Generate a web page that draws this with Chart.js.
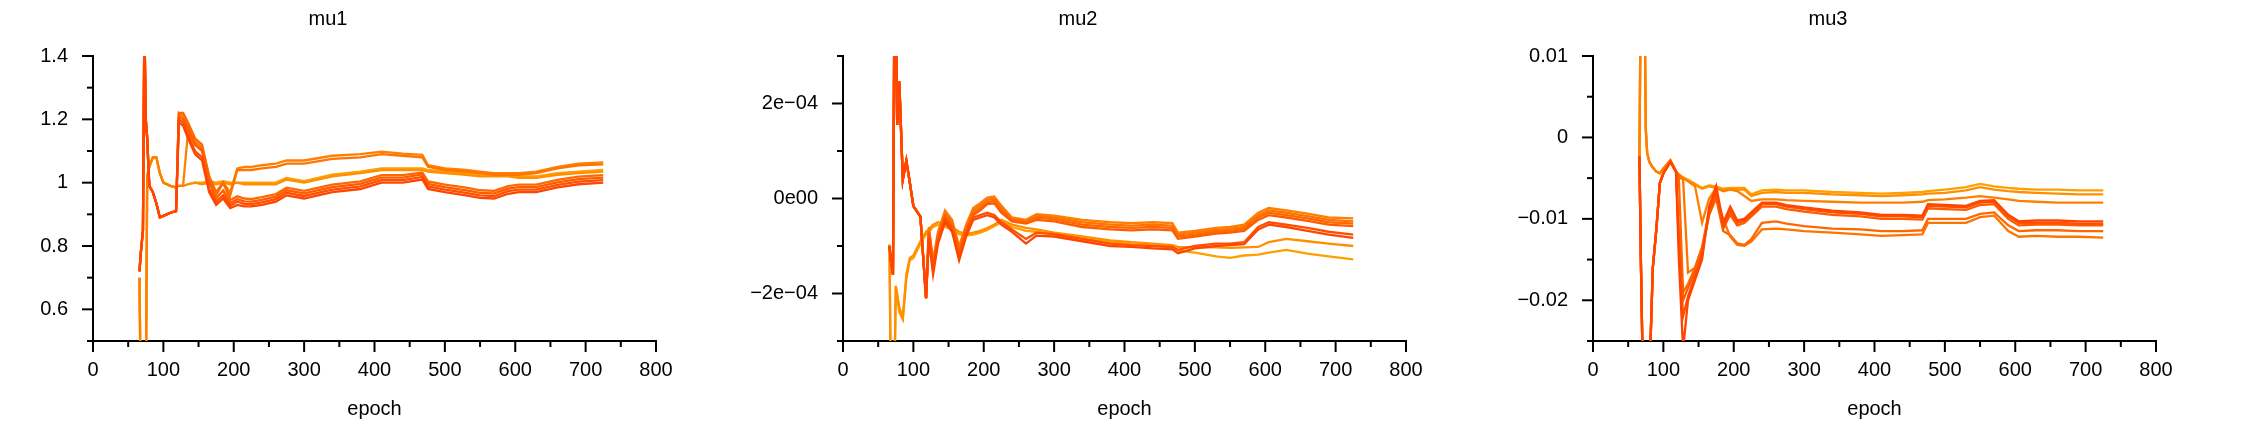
<!DOCTYPE html>
<html lang="en">
<head>
  <meta charset="UTF-8">
  <title>mu1 mu2 mu3</title>
  <style>
    * {
      margin: 0;
      padding: 0;
      box-sizing: border-box;
    }

    body {
      background: #fff;
      width: 2250px;
      height: 434px;
      overflow: hidden;
      display: flex;
    }

    canvas {
      display: block;
    }
  </style>
  <script src="https://cdn.jsdelivr.net/npm/chart.js"></script>
</head>
<body>
  <canvas id="mu1" width="750" height="434"></canvas>
  <canvas id="mu2" width="750" height="434"></canvas>
  <canvas id="mu3" width="750" height="434"></canvas>

  <script>
    // epochs shared by every run
    const epochs = [66, 68, 71, 73, 75, 77, 80, 85, 90, 95, 100, 110, 118, 122, 128, 135, 145, 155, 165, 175,
      185, 195, 205, 215, 225, 240, 260, 275, 300, 340, 380, 410, 440, 468, 476, 500, 530, 550, 570, 590,
      605, 630, 660, 690, 725];

    const xTickValues = [0, 50, 100, 150, 200, 250, 300, 350, 400, 450, 500, 550, 600, 650, 700, 750, 800];
    const xTickLabels = ['0', '', '100', '', '200', '', '300', '', '400', '', '500', '', '600', '', '700', '', '800'];

    // mu1
    const mu1Run0 = [0.72, 0.78, 0.85, 1.5, 1.2, 1.14, 0.99, 0.97, 0.935, 0.89, 0.895, 0.905, 0.91,
      1.19, 1.18, 1.14, 1.09, 1.07, 0.97, 0.93, 0.95, 0.92, 0.93, 0.925, 0.925, 0.93, 0.94, 0.96, 0.95, 0.97,
      0.98, 1.0, 1.0, 1.01, 0.98, 0.97, 0.96, 0.952, 0.95, 0.965, 0.97, 0.97, 0.985, 0.995, 1.0];
    const mu1Run1 = [0.72, 0.78, 0.85, 1.5, 1.2, 1.14, 0.99, 0.97, 0.935, 0.89, 0.895, 0.905, 0.91,
      1.2, 1.19, 1.15, 1.1, 1.08, 0.98, 0.94, 0.96, 0.928, 0.94, 0.933, 0.932, 0.938, 0.948, 0.968, 0.958, 0.978,
      0.988, 1.008, 1.008, 1.018, 0.988, 0.978, 0.968, 0.96, 0.958, 0.973, 0.978, 0.978, 0.993, 1.003, 1.008];
    const mu1Run2 = [0.72, 0.78, 0.85, 1.5, 1.2, 1.14, 0.99, 0.97, 0.935, 0.89, 0.895, 0.905, 0.91,
      1.21, 1.2, 1.17, 1.12, 1.1, 1.0, 0.95, 0.975, 0.936, 0.948, 0.941, 0.94, 0.946, 0.956, 0.976, 0.966, 0.986,
      0.996, 1.016, 1.016, 1.026, 0.996, 0.986, 0.976, 0.968, 0.966, 0.981, 0.986, 0.986, 1.001, 1.011, 1.016];
    const mu1Run3 = [0.72, 0.78, 0.85, 1.5, 1.2, 1.14, 0.99, 0.97, 0.935, 0.89, 0.895, 0.905, 0.91,
      1.22, 1.22, 1.19, 1.14, 1.12, 1.02, 0.97, 1.0, 0.945, 0.957, 0.95, 0.948, 0.954, 0.964, 0.984, 0.974, 0.994,
      1.004, 1.024, 1.024, 1.032, 1.004, 0.994, 0.984, 0.976, 0.974, 0.989, 0.994, 0.994, 1.009, 1.019, 1.024];
    const mu1Run4 = [0.72, 0.78, 0.85, 1.5, 1.2, 1.14, 0.99, 0.97, 0.935, 0.89, 0.895, 0.905, 0.91,
      1.22, 1.21, 1.18, 1.13, 1.11, 1.02, 0.96, 1.0, 0.96, 1.04, 1.04, 1.04, 1.045, 1.05, 1.06, 1.06, 1.075,
      1.08, 1.09, 1.085, 1.08, 1.05, 1.04, 1.035, 1.03, 1.025, 1.025, 1.025, 1.03, 1.045, 1.055, 1.058];
    const mu1Run5 = [0.7, 0.3, 0.3, 0.3, 0.3, 1.02, 1.05, 1.08, 1.08, 1.03, 1.0, 0.99, 0.985,
      0.99, 0.99, 1.16, 1.12, 1.1, 1.01, 0.97, 1.0, 0.97, 1.045, 1.05, 1.05, 1.055, 1.06, 1.07, 1.07, 1.085,
      1.09, 1.098, 1.092, 1.088, 1.055, 1.045, 1.04, 1.035, 1.03, 1.03, 1.03, 1.035, 1.05, 1.06, 1.064];
    const mu1Run6 = [0.7, 0.3, 0.3, 0.3, 0.3, 1.02, 1.05, 1.08, 1.08, 1.03, 1.0, 0.99, 0.985,
      0.99, 0.99, 0.995, 1.0, 0.995, 1.0, 0.995, 1.0, 0.995, 1.0, 0.995, 0.995, 0.995, 0.995, 1.01, 1.0, 1.02,
      1.03, 1.04, 1.04, 1.04, 1.035, 1.03, 1.025, 1.02, 1.02, 1.02, 1.015, 1.015, 1.025, 1.03, 1.035];
    const mu1Run7 = [0.7, 0.3, 0.3, 0.3, 0.3, 1.02, 1.05, 1.08, 1.08, 1.03, 1.0, 0.99, 0.985,
      0.99, 0.99, 0.995, 1.0, 1.0, 1.005, 1.0, 1.005, 1.0, 1.0, 1.0, 1.0, 1.0, 1.0, 1.015, 1.005, 1.025,
      1.035, 1.045, 1.045, 1.045, 1.04, 1.035, 1.03, 1.025, 1.025, 1.025, 1.02, 1.02, 1.03, 1.035, 1.04];
    const mu1TickValues = [0.5, 0.6, 0.7, 0.8, 0.9, 1.0, 1.1, 1.2, 1.3, 1.4];
    const mu1TickLabels = ['', '0.6', '', '0.8', '', '1', '', '1.2', '', '1.4'];

    // mu2, values in units of 1e-04
    const mu2Run0 = [-1.0, -1.3, -1.6, 4, 4, 1.55, 2.46, 0.4, 0.8, 0.33, -0.16, -0.38, -2.1,
      -0.85, -1.6, -0.95, -0.5, -0.7, -1.3, -0.8, -0.45, -0.4, -0.35, -0.4, -0.55, -0.7, -0.95, -0.78, -0.8, -0.9,
      -1.0, -1.02, -1.05, -1.07, -1.15, -1.05, -1.0, -0.98, -0.96, -0.65, -0.55, -0.6, -0.68, -0.76, -0.83];
    const mu2Run1 = [-1.0, -1.3, -1.6, 4, 4, 1.55, 2.46, 0.4, 0.8, 0.33, -0.16, -0.38, -2.1,
      -0.8, -1.5, -0.9, -0.45, -0.65, -1.25, -0.75, -0.4, -0.35, -0.3, -0.35, -0.5, -0.65, -0.85, -0.72, -0.75, -0.85,
      -0.95, -0.98, -1.0, -1.02, -1.08, -1.0, -0.95, -0.95, -0.92, -0.6, -0.5, -0.55, -0.62, -0.7, -0.76];
    const mu2Run2 = [-1.0, -1.3, -1.6, 4, 4, 1.55, 2.46, 0.4, 0.8, 0.33, -0.16, -0.38, -2.1,
      -0.75, -1.45, -0.85, -0.4, -0.6, -1.15, -0.7, -0.35, -0.25, -0.12, -0.1, -0.3, -0.48, -0.53, -0.45, -0.48, -0.6,
      -0.65, -0.67, -0.65, -0.67, -0.85, -0.8, -0.74, -0.72, -0.68, -0.45, -0.35, -0.4, -0.47, -0.55, -0.58];
    const mu2Run3 = [-1.0, -1.3, -1.6, 4, 4, 1.55, 2.46, 0.4, 0.8, 0.33, -0.16, -0.38, -2.1,
      -0.7, -1.4, -0.8, -0.35, -0.55, -1.1, -0.65, -0.3, -0.2, -0.08, -0.05, -0.25, -0.45, -0.5, -0.4, -0.44, -0.55,
      -0.6, -0.62, -0.6, -0.62, -0.8, -0.76, -0.7, -0.68, -0.64, -0.4, -0.3, -0.35, -0.42, -0.5, -0.53];
    const mu2Run4 = [-1.0, -1.3, -1.6, 4, 4, 1.55, 2.46, 0.4, 0.8, 0.33, -0.16, -0.38, -2.1,
      -0.65, -1.35, -0.75, -0.3, -0.5, -1.05, -0.6, -0.25, -0.15, -0.03, 0.0, -0.2, -0.43, -0.48, -0.36, -0.4, -0.5,
      -0.55, -0.57, -0.55, -0.57, -0.76, -0.72, -0.66, -0.64, -0.6, -0.35, -0.25, -0.3, -0.37, -0.45, -0.48];
    const mu2Run5 = [-1.0, -1.3, -1.6, 4, 4, 1.55, 2.46, 0.4, 0.8, 0.33, -0.16, -0.38, -2.1,
      -0.6, -1.3, -0.7, -0.25, -0.45, -1.0, -0.55, -0.2, -0.1, 0.02, 0.04, -0.15, -0.4, -0.45, -0.33, -0.36, -0.45,
      -0.5, -0.52, -0.5, -0.52, -0.72, -0.68, -0.62, -0.6, -0.55, -0.3, -0.2, -0.25, -0.32, -0.4, -0.42];
    const mu2Run6 = [-0.97, -4, -4, -4, -1.84, -2.0, -2.3, -2.5, -1.6, -1.25, -1.2, -0.9, -0.7,
      -0.65, -0.55, -0.5, -0.55, -0.6, -0.7, -0.75, -0.72, -0.68, -0.62, -0.55, -0.45, -0.55, -0.62, -0.65, -0.72, -0.8,
      -0.88, -0.92, -0.95, -0.98, -1.02, -1.03, -1.03, -1.04, -1.03, -1.02, -0.92, -0.85, -0.9, -0.95, -1.0];
    const mu2Run7 = [-0.97, -4, -4, -4, -1.84, -2.1, -2.4, -2.55, -1.7, -1.3, -1.25, -0.95, -0.75,
      -0.7, -0.6, -0.55, -0.6, -0.65, -0.75, -0.78, -0.76, -0.72, -0.66, -0.58, -0.5, -0.6, -0.68, -0.7, -0.76, -0.85,
      -0.92, -0.96, -0.99, -1.04, -1.1, -1.14, -1.22, -1.25, -1.2, -1.18, -1.14, -1.08, -1.16, -1.22, -1.28];
    const mu2TickValues = [-3, -2, -1, 0, 1, 2, 3];
    const mu2TickLabels = ['', '\u22122e\u221204', '', '0e00', '', '2e\u221204', ''];

    // mu3
    const mu3Run0 = [-0.0023, -0.015, -0.03, -0.03, -0.03, -0.03, -0.03, -0.016, -0.0113, -0.0056, -0.0044, -0.003, -0.0042,
      -0.015, -0.026, -0.02, -0.0175, -0.015, -0.0085, -0.006, -0.0105, -0.0085, -0.0102, -0.01, -0.0092, -0.008, -0.008, -0.0083, -0.0086, -0.009,
      -0.0092, -0.0095, -0.0095, -0.0096, -0.0082, -0.0083, -0.0084, -0.0078, -0.0077, -0.0095, -0.0103, -0.0102, -0.0102, -0.0103, -0.0103];
    const mu3Run1 = [-0.0023, -0.015, -0.03, -0.03, -0.03, -0.03, -0.03, -0.016, -0.0113, -0.0056, -0.0044, -0.003, -0.0042,
      -0.013, -0.022, -0.0195, -0.017, -0.0145, -0.009, -0.0065, -0.011, -0.009, -0.0105, -0.0102, -0.0095, -0.0082, -0.0082, -0.0085, -0.0088, -0.0092,
      -0.0094, -0.0097, -0.0097, -0.0098, -0.0084, -0.0085, -0.0086, -0.008, -0.0079, -0.0097, -0.0105, -0.0105, -0.0105, -0.0106, -0.0106];
    const mu3Run2 = [-0.0023, -0.015, -0.03, -0.03, -0.03, -0.03, -0.03, -0.016, -0.0113, -0.0056, -0.0044, -0.003, -0.0042,
      -0.012, -0.02, -0.0185, -0.0165, -0.014, -0.0095, -0.007, -0.0112, -0.0095, -0.0108, -0.0105, -0.0097, -0.0085, -0.0085, -0.0088, -0.0091, -0.0095,
      -0.0097, -0.01, -0.01, -0.0101, -0.0087, -0.0088, -0.0089, -0.0083, -0.0082, -0.01, -0.0108, -0.0107, -0.0107, -0.0108, -0.0108];
    const mu3Run3 = [-0.0023, -0.015, -0.03, -0.03, -0.03, -0.03, -0.03, -0.016, -0.0113, -0.0056, -0.0044, -0.003, -0.0042,
      -0.005, -0.019, -0.018, -0.016, -0.0135, -0.0095, -0.0075, -0.0115, -0.012, -0.013, -0.0132, -0.0125, -0.0105, -0.0103, -0.0106, -0.0109, -0.0112,
      -0.0113, -0.0115, -0.0115, -0.0114, -0.01, -0.01, -0.01, -0.0094, -0.0092, -0.0108, -0.0115, -0.0114, -0.0114, -0.0115, -0.0115];
    const mu3Run4 = [-0.0023, -0.015, -0.03, -0.03, -0.03, -0.03, -0.03, -0.016, -0.0113, -0.0056, -0.0044, -0.003, -0.0042,
      -0.0048, -0.0052, -0.0166, -0.016, -0.0135, -0.009, -0.0072, -0.01, -0.0122, -0.0132, -0.0133, -0.0128, -0.0113, -0.0112, -0.0113, -0.0115, -0.0117,
      -0.0119, -0.0121, -0.012, -0.0119, -0.0105, -0.0105, -0.0105, -0.0098, -0.0096, -0.0115, -0.0122, -0.0121, -0.0122, -0.0122, -0.0123];
    const mu3Run5 = [-0.0023, 0.02, 0.02, 0.02, 0.001, -0.0019, -0.003, -0.0037, -0.0042, -0.0044, -0.0038, -0.0028, -0.0042,
      -0.0046, -0.005, -0.0054, -0.006, -0.0105, -0.0075, -0.0062, -0.0066, -0.0064, -0.0066, -0.0072, -0.0078, -0.0076, -0.0076, -0.0077, -0.0078, -0.0079,
      -0.008, -0.008, -0.008, -0.0079, -0.0077, -0.0076, -0.0074, -0.0072, -0.0074, -0.0076, -0.0078, -0.0079, -0.008, -0.008, -0.008];
    const mu3Run6 = [-0.0023, 0.02, 0.02, 0.02, 0.001, -0.0019, -0.003, -0.0037, -0.0042, -0.0044, -0.0038, -0.0028, -0.0042,
      -0.0046, -0.005, -0.0053, -0.0058, -0.0063, -0.006, -0.0062, -0.0065, -0.0063, -0.0064, -0.0064, -0.0072, -0.0068, -0.0067, -0.0068, -0.0068, -0.007,
      -0.0071, -0.0072, -0.0071, -0.007, -0.0069, -0.0068, -0.0065, -0.0061, -0.0064, -0.0066, -0.0067, -0.0068, -0.0069, -0.007, -0.007];
    const mu3Run7 = [-0.0023, 0.02, 0.02, 0.02, 0.001, -0.0019, -0.003, -0.0037, -0.0042, -0.0044, -0.0038, -0.0028, -0.0042,
      -0.0045, -0.0049, -0.0052, -0.0057, -0.0062, -0.0059, -0.006, -0.0063, -0.0062, -0.0062, -0.0062, -0.007, -0.0065, -0.0064, -0.0065, -0.0065, -0.0067,
      -0.0068, -0.0069, -0.0068, -0.0067, -0.0066, -0.0064, -0.0061, -0.0057, -0.006, -0.0062, -0.0063, -0.0064, -0.0064, -0.0065, -0.0065];
    const mu3TickValues = [-0.025, -0.02, -0.015, -0.01, -0.005, 0, 0.005, 0.01];
    const mu3TickLabels = ['', '\u22120.02', '', '\u22120.01', '', '0', '', '0.01'];

    // red -> orange
    const runColors = ['#ff4500', '#ff5000', '#ff5c00', '#ff6800', '#ff7400', '#ff8000', '#ff8f00', '#ffa000'];

    const FONT = 'Liberation Sans, Arial, Helvetica, sans-serif';

    // major ticks long, minor (unlabelled) ticks short
    const tickMarks = {
      id: 'tickMarks',
      afterDraw(chart) {
        const ctx = chart.ctx;
        ctx.save();
        ctx.strokeStyle = '#000';
        ctx.lineWidth = 2;
        const xs = chart.scales.x;
        xs.ticks.forEach(t => {
          const p = xs.getPixelForValue(t.value);
          const len = t.label ? 11 : 6;
          ctx.beginPath();
          ctx.moveTo(p, xs.top);
          ctx.lineTo(p, xs.top + len);
          ctx.stroke();
        });
        const ys = chart.scales.y;
        ys.ticks.forEach(t => {
          const p = ys.getPixelForValue(t.value);
          const len = t.label ? 11 : 6;
          ctx.beginPath();
          ctx.moveTo(ys.right, p);
          ctx.lineTo(ys.right - len, p);
          ctx.stroke();
        });
        ctx.restore();
      }
    };

    function makePanel(id, title, runs, yTickValues, yTickLabels) {
      const datasets = runs.map((run, i) => ({
        data: epochs.map((e, j) => ({ x: e, y: run[j] })),
        borderColor: runColors[i],
        borderWidth: 2.3,
        pointRadius: 0,
        fill: false,
        tension: 0
      }));

      new Chart(document.getElementById(id), {
        type: 'line',
        data: { datasets: datasets },
        options: {
          responsive: false,
          animation: false,
          layout: { padding: { left: 0, right: 94, top: 0, bottom: 0 } },
          plugins: {
            legend: { display: false },
            tooltip: { enabled: false },
            title: {
              display: true,
              text: title,
              color: '#000',
              font: { family: FONT, size: 20, weight: 'normal' },
              padding: { top: 7, bottom: 25 }
            }
          },
          scales: {
            x: {
              type: 'linear',
              min: 0,
              max: 800,
              afterBuildTicks: s => { s.ticks = xTickValues.map(v => ({ value: v })); },
              afterFit: s => { s.height = 93; },
              ticks: {
                autoSkip: false,
                maxRotation: 0,
                color: '#000',
                font: { family: FONT, size: 20 },
                padding: 6,
                callback: (v, i) => xTickLabels[i]
              },
              grid: { drawOnChartArea: false, tickLength: 11, tickColor: 'rgba(0,0,0,0)' },
              border: { display: true, color: '#000', width: 2 },
              title: {
                display: true,
                text: 'epoch',
                color: '#000',
                font: { family: FONT, size: 20 },
                padding: { top: 0, bottom: 13 }
              }
            },
            y: {
              type: 'linear',
              min: yTickValues[0],
              max: yTickValues[yTickValues.length - 1],
              afterBuildTicks: s => { s.ticks = yTickValues.map(v => ({ value: v })); },
              afterFit: s => { s.width = 93; },
              ticks: {
                autoSkip: false,
                color: '#000',
                font: { family: FONT, size: 20 },
                padding: 14,
                callback: (v, i) => yTickLabels[i]
              },
              grid: { drawOnChartArea: false, tickLength: 11, tickColor: 'rgba(0,0,0,0)' },
              border: { display: true, color: '#000', width: 2 }
            }
          }
        },
        plugins: [tickMarks]
      });
    }

    makePanel('mu1', 'mu1', [mu1Run0, mu1Run1, mu1Run2, mu1Run3, mu1Run4, mu1Run5, mu1Run6, mu1Run7],
      mu1TickValues, mu1TickLabels);
    makePanel('mu2', 'mu2', [mu2Run0, mu2Run1, mu2Run2, mu2Run3, mu2Run4, mu2Run5, mu2Run6, mu2Run7],
      mu2TickValues, mu2TickLabels);
    makePanel('mu3', 'mu3', [mu3Run0, mu3Run1, mu3Run2, mu3Run3, mu3Run4, mu3Run5, mu3Run6, mu3Run7],
      mu3TickValues, mu3TickLabels);
  </script>
</body>
</html>
